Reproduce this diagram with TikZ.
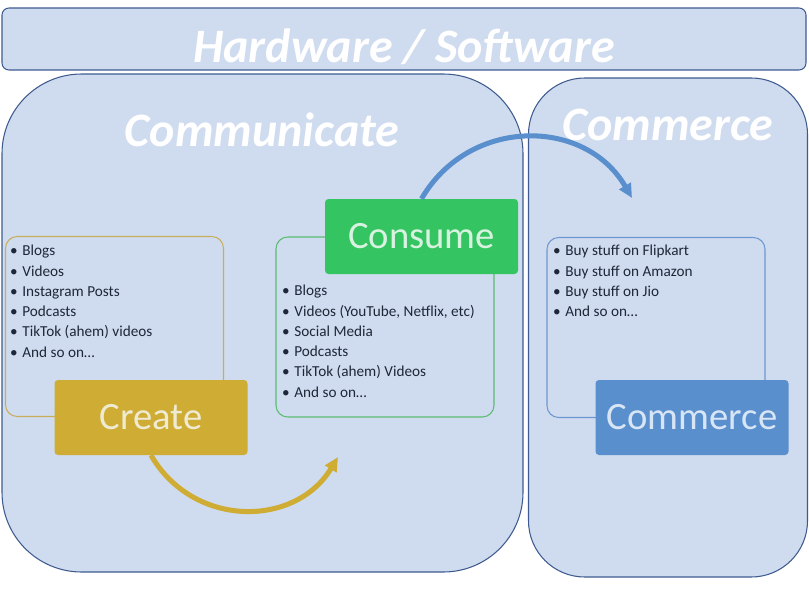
\documentclass[tikz,border=0pt]{standalone}
\usepackage{fontspec}
\setmainfont{Carlito}
\usetikzlibrary{arrows.meta,positioning}

\definecolor{paneblue}{HTML}{CFDCEF}
\definecolor{paneline}{HTML}{3E5A8E}
\definecolor{gold}{HTML}{CFAC33}
\definecolor{goldline}{HTML}{C8AE5C}
\definecolor{goldtext}{HTML}{EFEAD2}
\definecolor{leaf}{HTML}{35C462}
\definecolor{leafline}{HTML}{5BBB72}
\definecolor{leaftext}{HTML}{D8F2E0}
\definecolor{sky}{HTML}{5A8FCE}
\definecolor{skyline}{HTML}{6C97D0}
\definecolor{skytext}{HTML}{D8E5F5}
\definecolor{ink}{HTML}{1E2738}

\newcommand{\pxu}{0.03cm}
\newcommand{\bul}{\textbullet\hspace{0.3em}}

\begin{document}
\begin{tikzpicture}
	[x=\pxu,y=-\pxu,
		pane/.style={draw=paneline,fill=paneblue,line width=0.9pt},
		headline/.style={text=white,inner sep=0,anchor=base,font=\fontsize{41}{44}\selectfont\bfseries\itshape},
		listbox/.style={draw,rounded corners=10pt,line width=0.9pt,minimum width=218*\pxu,minimum height=180*\pxu},
		listtext/.style={text=ink,align=left,inner sep=0,anchor=north west,font=\fontsize{13}{17.3}\selectfont},
		tag/.style={rounded corners=3pt,minimum width=193*\pxu,minimum height=75*\pxu,font=\fontsize{33}{36}\selectfont},
		flow/.style={line width=4.3pt,-{Triangle[length=12pt,width=11pt]}}]

	\useasboundingbox (0,0) rectangle (809,589);

	% panels
	\node[pane,rounded corners=6pt,minimum width=804*\pxu,minimum height=62*\pxu] (hwsw) at (404,39) {};
	\node[pane,rounded corners=68pt,minimum width=521*\pxu,minimum height=498*\pxu] (comm) at (262.5,323) {};
	\node[pane,rounded corners=48pt,minimum width=279*\pxu,minimum height=499*\pxu] (trade) at (668,327.5) {};

	\node[headline] (hwswtext) at (404,62) {Hardware / Software};
	\node[headline] (commtext) at (262,146) {Communicate};
	\node[headline] (tradetext) at (668,140) {Commerce};

	% lists
	\node[listbox,draw=goldline] (createlist) at (114.5,326.5) {};
	\node[listbox,draw=leafline] (consumelist) at (385,327) {};
	\node[listbox,draw=skyline] (commercelist) at (656,327.5) {};

	\node[listtext] (createitems) at (10,245) {\bul Blogs\\ \bul Videos\\ \bul Instagram Posts\\ \bul Podcasts\\ \bul TikTok (ahem) videos\\ \bul And so on\dots};
	\node[listtext] (consumeitems) at (282,285) {\bul Blogs\\ \bul Videos (YouTube, Netflix, etc)\\ \bul Social Media\\ \bul Podcasts\\ \bul TikTok (ahem) Videos\\ \bul And so on\dots};
	\node[listtext] (commerceitems) at (553,245) {\bul Buy stuff on Flipkart\\ \bul Buy stuff on Amazon\\ \bul Buy stuff on Jio\\ \bul And so on\dots};

	% tags
	\node[tag,fill=gold,text=goldtext] (create) at (151,417.5) {Create};
	\node[tag,fill=leaf,text=leaftext] (consume) at (421.5,236.5) {Consume};
	\node[tag,fill=sky,text=skytext] (commerce) at (692,417.5) {Commerce};

	% arcs
	\coordinate (goldtip) at (338,457);
	\coordinate (skytip) at (632,198);
	\draw[flow,draw=gold] (create.south) .. controls (193,528) and (295,528) .. (goldtip);
	\draw[flow,draw=sky] (consume.north) .. controls (469,117) and (585,117) .. (skytip);

\end{tikzpicture}
\end{document}
